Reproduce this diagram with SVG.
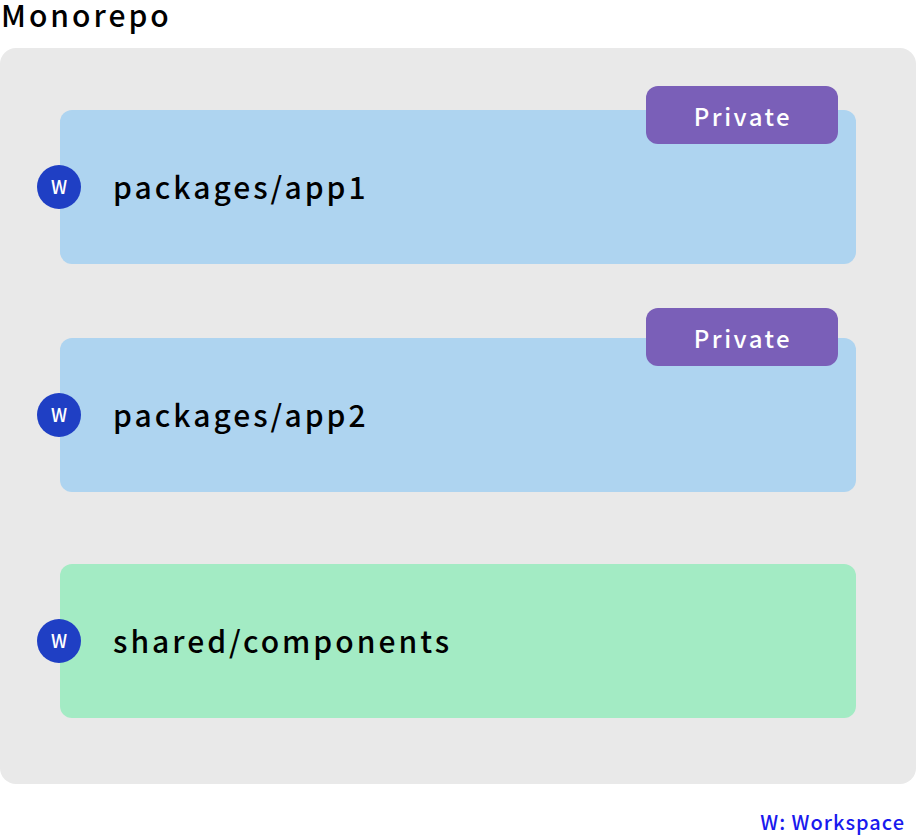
<svg xmlns="http://www.w3.org/2000/svg" width="916" height="836" viewBox="0 0 916 836">
<style>
text{font-family:"Noto Sans CJK JP","Noto Sans",sans-serif;font-weight:500}
.title{font-size:30px;letter-spacing:3px;fill:#000}
.lbl{font-size:30px;letter-spacing:3px;fill:#000}
.app{fill:#aed4f0}
.shared{fill:#a3ebc4}
.badge{fill:#7a5fb8}
.btxt{font-size:24px;letter-spacing:2.5px;fill:#fff;text-anchor:middle}
.ws{fill:#1f3fc4}
.wtxt{font-size:18px;fill:#fff;text-anchor:middle}
.legend{font-size:20px;letter-spacing:1px;fill:#1a1aee;text-anchor:end}
</style>
<text class="title" x="1" y="27">Monorepo</text>
<rect id="container" x="0" y="48" width="916" height="736" rx="16" fill="#e9e9e9"/>
<g id="app1">
<rect class="app" x="60" y="110" width="796" height="154" rx="12"/>
<text class="lbl" x="113" y="199">packages/app1</text>
<rect class="badge" x="646" y="86" width="192" height="58" rx="12"/>
<text class="btxt" x="743" y="126">Private</text>
<circle class="ws" cx="59" cy="187" r="22"/>
<text class="wtxt" x="59" y="194">W</text>
</g>
<g id="app2">
<rect class="app" x="60" y="338" width="796" height="154" rx="12"/>
<text class="lbl" x="113" y="427">packages/app2</text>
<rect class="badge" x="646" y="308" width="192" height="58" rx="12"/>
<text class="btxt" x="743" y="348">Private</text>
<circle class="ws" cx="59" cy="415" r="22"/>
<text class="wtxt" x="59" y="422">W</text>
</g>
<g id="shared">
<rect class="shared" x="60" y="564" width="796" height="154" rx="12"/>
<text class="lbl" x="113" y="653">shared/components</text>
<circle class="ws" cx="59" cy="641" r="22"/>
<text class="wtxt" x="59" y="648">W</text>
</g>
<g id="connectors"/>
<text class="legend" x="905" y="830">W: Workspace</text>
</svg>
